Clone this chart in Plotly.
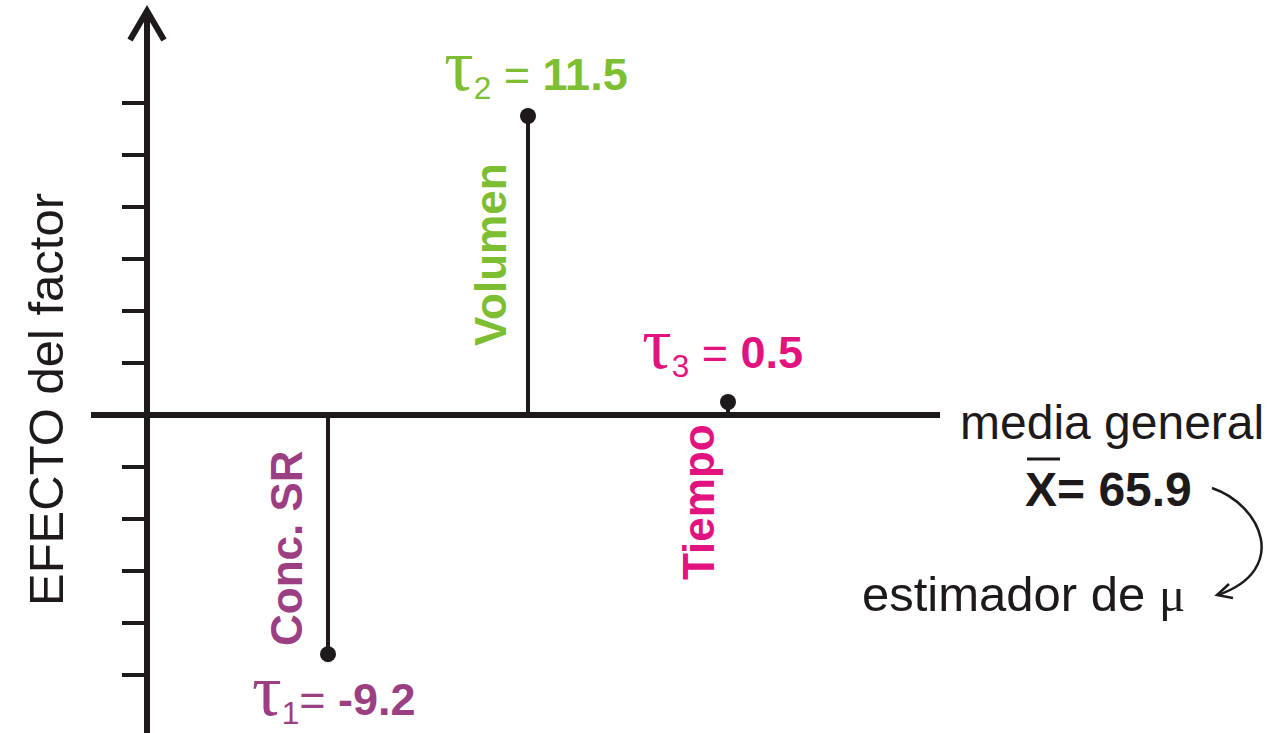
import plotly.graph_objects as go

# ---- data ----
factors = ["Conc. SR", "Volumen", "Tiempo"]
effects = [-9.2, 11.5, 0.5]
tau_labels = ["τ<sub>1</sub>= <b>-9.2</b>", "τ<sub>2</sub> = <b>11.5</b>", "τ<sub>3</sub> = <b>0.5</b>"]
factor_colors = ["#9B3E82", "#7DBE32", "#E2127F"]
tick_values = [-10, -8, -6, -4, -2, 2, 4, 6, 8, 10, 12]
mean_value = 65.9

W, H = 1270, 733
SANS = "Liberation Sans, Arial, Helvetica, sans-serif"
SERIF = "Liberation Serif, DejaVu Serif, serif"
INK = "#1e1a1b"

xs = [1, 2, 3]

def px(x):
    return x / W

def py(y):
    return 1 - y / H

fig = go.Figure()

# stems
sx, sy = [], []
for x, v in zip(xs, effects):
    sx += [x, x, None]
    sy += [0, v, None]
fig.add_trace(go.Scatter(x=sx, y=sy, mode="lines", line=dict(color=INK, width=4),
                         hoverinfo="skip", showlegend=False))
fig.add_trace(go.Scatter(x=xs, y=effects, mode="markers",
                         marker=dict(color=INK, size=16), showlegend=False))

shapes = []
# horizontal axis (media general)
shapes.append(dict(type="line", xref="paper", yref="y", x0=px(91), x1=px(940), y0=0, y1=0,
                   line=dict(color=INK, width=6)))
# vertical axis
shapes.append(dict(type="line", xref="paper", yref="paper", x0=px(147), x1=px(147), y0=0, y1=py(12),
                   line=dict(color=INK, width=6)))
# arrow head
shapes.append(dict(type="path", xref="paper", yref="paper",
                   path=f"M {px(130)},{py(40)} L {px(147)},{py(11)} L {px(164)},{py(40)}",
                   line=dict(color=INK, width=6)))
# ticks
for t in tick_values:
    shapes.append(dict(type="line", xref="paper", yref="y", x0=px(122), x1=px(147), y0=t, y1=t,
                       line=dict(color=INK, width=4)))
# overline for X
shapes.append(dict(type="line", xref="paper", yref="paper", x0=px(1027), x1=px(1060),
                   y0=py(459), y1=py(459), line=dict(color=INK, width=3)))
# curved arrow
shapes.append(dict(type="path", xref="paper", yref="paper",
                   path=f"M {px(1212)},{py(488)} C {px(1262)},{py(505)} {px(1290)},{py(570)} {px(1218)},{py(595)}",
                   line=dict(color=INK, width=2.5)))
shapes.append(dict(type="path", xref="paper", yref="paper",
                   path=f"M {px(1229)},{py(584)} L {px(1217)},{py(595)} L {px(1233)},{py(598)}",
                   line=dict(color=INK, width=2.5)))

annotations = []
# rotated factor names
name_shift = [(-42, -133), (-38, 160), (-30, -87)]
for x, name, col, (dx, dy) in zip(xs, factors, factor_colors, name_shift):
    annotations.append(dict(x=x, y=0, xref="x", yref="y", text=f"<b>{name}</b>", showarrow=False,
                            textangle=-90, xshift=dx, yshift=dy, xanchor="center", yanchor="middle",
                            font=dict(family=SANS, size=44, color=col)))
# tau labels
tau_shift = [(6, -36), (8, 51), (-6, 59)]
for x, v, lab, col, (dx, dy) in zip(xs, effects, tau_labels, factor_colors, tau_shift):
    txt = lab.replace("τ", f"<span style='font-family:{SERIF};font-size:74px'>τ</span>")
    annotations.append(dict(x=x, y=v, xref="x", yref="y", text=txt, showarrow=False,
                            xshift=dx, yshift=dy, xanchor="center", yanchor="middle",
                            font=dict(family=SANS, size=45, color=col)))
# right side texts
annotations.append(dict(x=px(958), y=0, xref="paper", yref="y", text="media general",
                        showarrow=False, xanchor="left", yanchor="middle", yshift=-7,
                        font=dict(family=SANS, size=48, color=INK)))
annotations.append(dict(x=px(1194), y=py(489), xref="paper", yref="paper",
                        text=f"<b>X= {mean_value}</b>", showarrow=False,
                        xanchor="right", yanchor="middle",
                        font=dict(family=SANS, size=48, color=INK)))
annotations.append(dict(x=px(1187), y=py(594), xref="paper", yref="paper",
                        text=f"estimador de <span style='font-family:{SERIF}'>μ</span>",
                        showarrow=False, xanchor="right", yanchor="middle",
                        font=dict(family=SANS, size=49, color=INK)))
# y-axis title
annotations.append(dict(x=px(46), y=py(400), xref="paper", yref="paper", text="EFECTO del factor",
                        showarrow=False, textangle=-90, xanchor="center", yanchor="middle",
                        font=dict(family=SANS, size=49, color=INK)))

fig.update_layout(
    width=W, height=H, margin=dict(l=0, r=0, t=0, b=0),
    paper_bgcolor="white", plot_bgcolor="white",
    xaxis=dict(range=[-0.64, 5.71], visible=False, fixedrange=True),
    yaxis=dict(range=[-12.231, 15.962], visible=False, fixedrange=True),
    shapes=shapes, annotations=annotations, showlegend=False,
)

fig.write_html("out.html", config={"displayModeBar": False},
               post_script="document.body.style.margin='0';document.body.style.overflow='hidden';")
